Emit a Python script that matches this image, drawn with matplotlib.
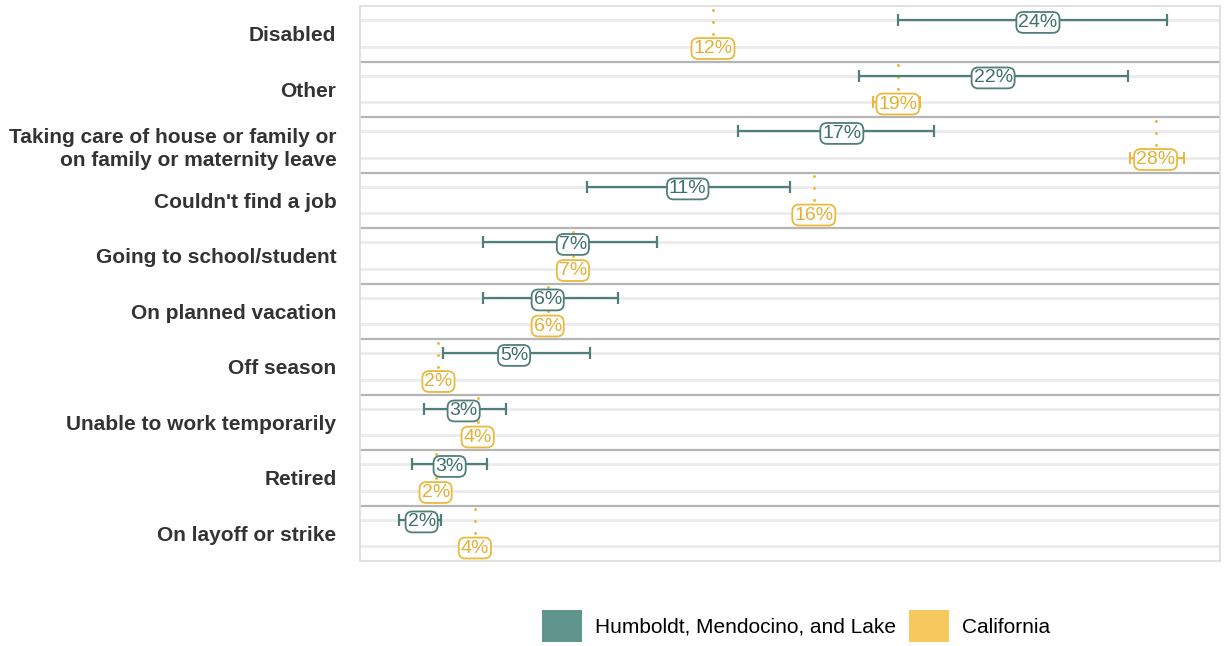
import matplotlib
matplotlib.use("Agg")
import matplotlib.pyplot as plt
from matplotlib.patches import Patch

plt.rcParams['font.family'] = ['Liberation Sans', 'DejaVu Sans']

# ---- data ----
categories = [
    "Disabled",
    "Other",
    "Taking care of house or family or\non family or maternity leave",
    "Couldn't find a job",
    "Going to school/student",
    "On planned vacation",
    "Off season",
    "Unable to work temporarily",
    "Retired",
    "On layoff or strike",
]
hml_est = [23.6, 22.0, 16.6, 11.1, 7.0, 6.1, 4.9, 3.1, 2.6, 1.6]
hml_low = [18.6, 17.2, 12.9, 7.5, 3.8, 3.8, 2.35, 1.7, 1.25, 0.8]
hml_high = [28.2, 26.8, 19.9, 14.75, 10.0, 8.6, 7.6, 4.6, 3.95, 2.3]

ca_est = [12.0, 18.6, 27.8, 15.6, 7.0, 6.1, 2.2, 3.6, 2.1, 3.5]
ca_low = [11.6, 17.7, 26.9, 15.2, 6.7, 5.8, 2.0, 3.4, 1.95, 3.3]
ca_high = [12.4, 19.4, 28.8, 16.0, 7.3, 6.4, 2.4, 3.8, 2.25, 3.7]

series_names = ["Humboldt, Mendocino, and Lake", "California"]

# ---- style ----
teal = "#5f958c"
teal_line = "#4f7f78"
teal_text = "#3f6f69"
gold = "#f5c95e"
gold_line = "#eab940"
gold_text = "#e2b034"

fig = plt.figure(figsize=(12.24, 6.46), dpi=100)
W, H = 1224, 646
ax = fig.add_axes([360 / W, 1 - 561 / H, 860 / W, 555 / H])

n = len(categories)
ax.set_xlim(-0.6, 30.1)
ax.set_ylim(n, 0)

h_off, c_off = 0.26, 0.73

# grid lines
for i in range(n):
    ax.axhline(i + h_off, color="#ebebeb", lw=2, zorder=0)
    ax.axhline(i + c_off, color="#ebebeb", lw=2, zorder=0)
    if i > 0:
        ax.axhline(i, color="#b5b5b5", lw=1.6, zorder=0.5)

for i in range(n):
    yh = i + h_off
    yc = i + c_off
    # California dotted reference line spanning the band
    lc = ax.vlines(ca_est[i], i + 0.07, i + 1.0, colors=gold_line, lw=2.2,
                   linestyles=(0, (0.01, 3.9)), zorder=1)
    lc.set_capstyle("round")
    # California error bar
    ax.errorbar(ca_est[i], yc,
                xerr=[[ca_est[i] - ca_low[i]], [ca_high[i] - ca_est[i]]],
                fmt="none", ecolor=gold_line, elinewidth=1.5, capsize=4,
                capthick=1.5, zorder=2)
    # Humboldt error bar
    ax.errorbar(hml_est[i], yh,
                xerr=[[hml_est[i] - hml_low[i]], [hml_high[i] - hml_est[i]]],
                fmt="none", ecolor=teal_line, elinewidth=1.6, capsize=4.5,
                capthick=1.6, zorder=2)
    ax.text(hml_est[i], yh, f"{round(hml_est[i])}%", ha="center",
            va="center_baseline", fontsize=14, color=teal_text, zorder=4,
            bbox=dict(boxstyle="round,pad=0.1,rounding_size=0.35", fc="white",
                      ec=teal_line, lw=1.3))
    ax.text(ca_est[i], yc, f"{round(ca_est[i])}%", ha="center",
            va="center_baseline", fontsize=14, color=gold_text, zorder=4,
            bbox=dict(boxstyle="round,pad=0.1,rounding_size=0.35", fc="white",
                      ec=gold_line, lw=1.3))

ax.set_yticks([i + 0.5 for i in range(n)])
ax.set_yticklabels(categories, fontsize=15, fontweight="bold", color="#333333",
                   linespacing=1.3)
ax.tick_params(axis="y", length=0, pad=17)
ax.set_xticks([])
for s in ax.spines.values():
    s.set_color("#dcdcdc")
    s.set_linewidth(1.2)

handles = [Patch(facecolor=teal, edgecolor="none", label=series_names[0]),
           Patch(facecolor=gold, edgecolor="none", label=series_names[1])]
fig.legend(handles=handles, loc="center", bbox_to_anchor=(796 / W, 1 - 626 / H),
           ncol=2, frameon=False, fontsize=15, handlelength=1.92,
           handleheight=1.92, handletextpad=0.65, columnspacing=0.6,
           borderpad=0, borderaxespad=0)

fig.savefig("out.png", dpi=100)
